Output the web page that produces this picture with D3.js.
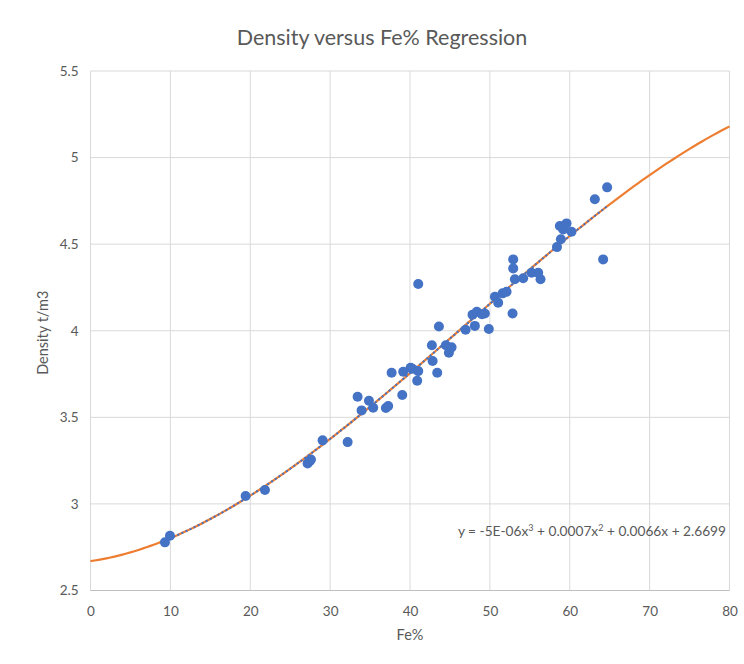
<!DOCTYPE html>
<html>
<head>
<meta charset="utf-8">
<script src="https://cdn.jsdelivr.net/npm/d3@7"></script>
<style>
  html, body { margin: 0; padding: 0; background: #fff; }
  svg { display: block; font-family: Lato, "Open Sans", sans-serif; }
</style>
</head>
<body>
<svg id="chart" width="744" height="664"></svg>
<script>
// Fe grade (%) of each sample
const feGrade = [
  9.32, 9.95, 19.42, 21.84, 27.18, 27.47, 27.6, 29.06, 32.19, 33.44,
  33.94, 34.86, 35.39, 36.98, 37.27, 37.70, 39.03, 39.15, 40.07, 40.3,
  40.9, 41.03, 41.03, 42.74, 42.83, 43.41, 43.62, 44.49, 44.87, 45.2,
  46.96, 47.83, 48.12, 48.37, 49.0, 49.37, 49.87, 50.63, 51.04, 51.59,
  52.09, 52.84, 52.92, 52.92, 53.13, 54.17, 55.22, 56.05, 56.34, 58.4,
  58.76, 58.89, 59.18, 59.6, 60.22, 63.14, 64.18, 64.68
];
// Measured density (t/m3) of each sample
const density = [
  2.778, 2.816, 3.046, 3.080, 3.234, 3.248, 3.257, 3.367, 3.357, 3.619,
  3.540, 3.596, 3.555, 3.554, 3.565, 3.757, 3.629, 3.763, 3.786, 3.780,
  3.711, 3.767, 4.270, 3.916, 3.825, 3.757, 4.025, 3.916, 3.873, 3.904,
  4.006, 4.093, 4.028, 4.110, 4.095, 4.100, 4.010, 4.196, 4.162, 4.216,
  4.225, 4.100, 4.412, 4.360, 4.297, 4.303, 4.335, 4.335, 4.297, 4.483,
  4.605, 4.528, 4.585, 4.620, 4.572, 4.759, 4.412, 4.828
];
// Cubic regression coefficients, highest power first
const coefficients = [-5.087e-6, 7.167e-4, 0.0066, 2.6699];

const xTicks = [0, 10, 20, 30, 40, 50, 60, 70, 80];
const yTicks = [2.5, 3, 3.5, 4, 4.5, 5, 5.5];

const svg = d3.select("#chart");
const textColor = "#595959";
const gridColor = "#D9D9D9";
const font = "Lato, 'Open Sans', sans-serif";

const x = d3.scaleLinear().domain([0, 80]).range([90.5, 729.5]);
const y = d3.scaleLinear().domain([2.5, 5.5]).range([590.5, 71]);

const poly = v => coefficients.reduce((acc, c) => acc * v + c, 0);

// Title
svg.append("text")
  .attr("x", 382).attr("y", 45)
  .attr("text-anchor", "middle")
  .attr("font-size", 21.5)
  .attr("fill", textColor)
  .text("Density versus Fe% Regression");

// Gridlines
const grid = svg.append("g");
grid.selectAll("line.v").data(xTicks).join("line")
  .attr("class", "v")
  .attr("x1", d => x(d)).attr("x2", d => x(d))
  .attr("y1", y(5.5)).attr("y2", y(2.5))
  .attr("stroke", gridColor).attr("stroke-width", 1);
grid.selectAll("line.h").data(yTicks).join("line")
  .attr("class", "h")
  .attr("x1", x(0)).attr("x2", x(80))
  .attr("y1", d => y(d)).attr("y2", d => y(d))
  .attr("stroke", d => d === 2.5 ? "#BFBFBF" : gridColor).attr("stroke-width", 1);

// Axes (labels only; lines come from the grid)
const xAxis = svg.append("g")
  .attr("transform", `translate(0,${y(2.5)})`)
  .call(d3.axisBottom(x).tickValues(xTicks).tickSize(0).tickPadding(16).tickFormat(d3.format("d")));
const yAxis = svg.append("g")
  .attr("transform", `translate(${x(0)},0)`)
  .call(d3.axisLeft(y).tickValues(yTicks).tickSize(0).tickPadding(12).tickFormat(d => String(d)));
[xAxis, yAxis].forEach(a => {
  a.select(".domain").remove();
  a.selectAll("text").attr("fill", textColor).attr("font-size", 13.5)
    .attr("font-family", font);
});

// Axis titles
svg.append("text")
  .attr("x", x(40)).attr("y", 640)
  .attr("text-anchor", "middle")
  .attr("font-size", 14.5).attr("fill", textColor)
  .text("Fe%");
svg.append("text")
  .attr("transform", `translate(48,${y(4) + 2}) rotate(-90)`)
  .attr("text-anchor", "middle")
  .attr("font-size", 14.5).attr("fill", textColor)
  .text("Density t/m3");

// Trend curve over the full axis range
const curveX = d3.range(0, 80.001, 0.5);
const line = d3.line().x(d => x(d)).y(d => y(poly(d))).curve(d3.curveLinear);
svg.append("path")
  .datum(curveX)
  .attr("d", line)
  .attr("fill", "none")
  .attr("stroke", "#ED7D31")
  .attr("stroke-width", 2.2);

// Dotted fit over the sampled grade range
const [fMin, fMax] = d3.extent(feGrade);
const fitX = d3.range(fMin, fMax, 0.25).concat([fMax]);
svg.append("path")
  .datum(fitX)
  .attr("d", line)
  .attr("fill", "none")
  .attr("stroke", "#4472C4")
  .attr("stroke-width", 2)
  .attr("stroke-dasharray", "2,2.5");

// Sample points
svg.append("g").selectAll("circle")
  .data(feGrade.map((f, i) => [f, density[i]]))
  .join("circle")
  .attr("cx", d => x(d[0]))
  .attr("cy", d => y(d[1]))
  .attr("r", 5)
  .attr("fill", "#4472C4");

// Equation label built from the coefficients
function fmtCoef(c) {
  const a = Math.abs(c);
  if (a !== 0 && a < 1e-4) {
    const e = Math.floor(Math.log10(a));
    const m = Math.round(a / Math.pow(10, e));
    return m + "E-" + String(-e).padStart(2, "0");
  }
  return String(+a.toFixed(4));
}
const sgn = (c, first) => first ? (c < 0 ? "-" : "") : (c < 0 ? " - " : " + ");
const eq = svg.append("text")
  .attr("x", 726).attr("y", 536)
  .attr("text-anchor", "end")
  .attr("font-size", 13.7)
  .attr("fill", textColor);
eq.append("tspan").text("y = " + sgn(coefficients[0], true) + fmtCoef(coefficients[0]) + "x");
eq.append("tspan").attr("dy", -5.5).attr("font-size", 9).text("3");
eq.append("tspan").attr("dy", 5.5).text(sgn(coefficients[1]) + fmtCoef(coefficients[1]) + "x");
eq.append("tspan").attr("dy", -5.5).attr("font-size", 9).text("2");
eq.append("tspan").attr("dy", 5.5).text(sgn(coefficients[2]) + fmtCoef(coefficients[2]) + "x" + sgn(coefficients[3]) + fmtCoef(coefficients[3]));
</script>
</body>
</html>
